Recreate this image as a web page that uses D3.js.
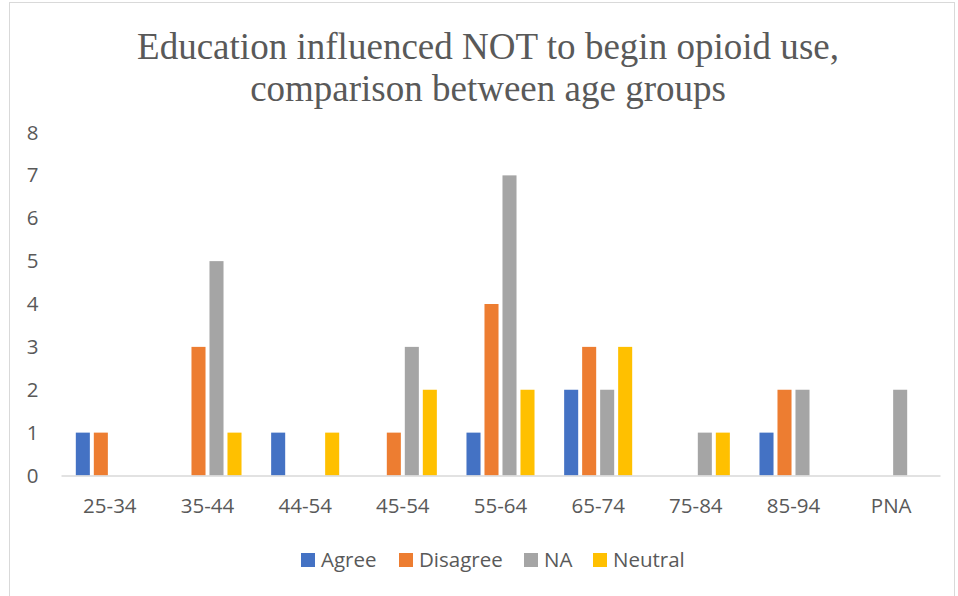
<!DOCTYPE html>
<html>
<head>
<meta charset="utf-8">
<script src="https://cdn.jsdelivr.net/npm/d3@7"></script>
<style>
  body { margin: 0; background: #fff; }
  svg { display: block; }
</style>
</head>
<body>
<div id="chart"></div>
<script>
// data
var categories = ["25-34", "35-44", "44-54", "45-54", "55-64", "65-74", "75-84", "85-94", "PNA"];
var seriesNames = ["Agree", "Disagree", "NA", "Neutral"];
var agree    = [1, 0, 1, 0, 1, 2, 0, 1, 0];
var disagree = [1, 3, 0, 1, 4, 3, 0, 2, 0];
var na       = [0, 5, 0, 3, 7, 2, 1, 2, 2];
var neutral  = [0, 1, 1, 2, 2, 3, 1, 0, 0];
var yTicks = [0, 1, 2, 3, 4, 5, 6, 7, 8];
var colours = ["#4472C4", "#ED7D31", "#A5A5A5", "#FFC000"];
var titleLines = ["Education influenced NOT to begin opioid use,", "comparison between age groups"];

var width = 958, height = 596;
var margin = {top: 132.5, left: 61, right: 18, bottom: 120.5};
var textColour = "#595959";
var sans = "'Open Sans', Lato, sans-serif";
var fontSize = 20.5;

var svg = d3.select("#chart").append("svg")
    .attr("width", width)
    .attr("height", height);

// chart frame
svg.append("rect")
    .attr("x", 9.5).attr("y", 2.5)
    .attr("width", 945).attr("height", 620)
    .attr("fill", "#fff")
    .attr("stroke", "#d9d9d9");

var values = [agree, disagree, na, neutral];
var rows = categories.map(function(c, i) {
    return {cat: c, vals: seriesNames.map(function(s, j) { return {name: s, idx: j, v: values[j][i]}; })};
});

var x0 = d3.scaleBand().domain(categories).range([margin.left, width - margin.right]);
var groupW = 72;
var x1 = d3.scaleBand().domain(seriesNames)
    .range([(x0.bandwidth() - groupW) / 2, (x0.bandwidth() + groupW) / 2])
    .paddingInner(0.22).paddingOuter(0.11);
var y = d3.scaleLinear().domain([0, 8]).range([height - margin.bottom, margin.top]);

// title
svg.append("g").selectAll("text").data(titleLines).enter()
    .append("text")
    .attr("x", width / 2 + 9)
    .attr("y", function(d, i) { return 58.5 + i * 42.5; })
    .attr("text-anchor", "middle")
    .attr("font-family", "'Liberation Serif', 'Times New Roman', serif")
    .attr("font-size", 37)
    .attr("textLength", function(d, i) { return i === 0 ? 702 : null; })
    .attr("fill", textColour)
    .text(function(d) { return d; });

// y axis (labels only)
var yAxis = svg.append("g")
    .attr("transform", "translate(38.5,0)")
    .call(d3.axisLeft(y).tickValues(yTicks).tickSize(0).tickPadding(0));
yAxis.select(".domain").remove();
yAxis.selectAll("text")
    .attr("font-family", sans).attr("font-size", fontSize).attr("fill", textColour);

// bars
var groups = svg.append("g").selectAll("g").data(rows).enter()
    .append("g")
    .attr("transform", function(d) { return "translate(" + x0(d.cat) + ",0)"; });

groups.selectAll("rect").data(function(d) { return d.vals.filter(function(e) { return e.v > 0; }); })
    .enter().append("rect")
    .attr("x", function(d) { return x1(d.name); })
    .attr("width", x1.bandwidth())
    .attr("y", function(d) { return y(d.v); })
    .attr("height", function(d) { return y(0) - y(d.v); })
    .attr("fill", function(d) { return colours[d.idx]; });

// x axis
var xAxis = svg.append("g")
    .attr("transform", "translate(0," + y(0) + ")")
    .call(d3.axisBottom(x0).tickSize(0).tickPadding(23));
xAxis.select(".domain").attr("stroke", "#d9d9d9").attr("stroke-width", 1.5);
xAxis.selectAll("text")
    .attr("font-family", sans).attr("font-size", fontSize).attr("fill", textColour);

// legend
var legendX = [301, 399, 524, 593];
var legend = svg.append("g").selectAll("g").data(seriesNames).enter()
    .append("g")
    .attr("transform", function(d, i) { return "translate(" + legendX[i] + ",553)"; });
legend.append("rect")
    .attr("width", 14).attr("height", 14)
    .attr("fill", function(d, i) { return colours[i]; });
legend.append("text")
    .attr("x", 20).attr("y", 7)
    .attr("dy", "0.35em")
    .attr("font-family", sans).attr("font-size", fontSize).attr("fill", textColour)
    .text(function(d) { return d; });
</script>
</body>
</html>
